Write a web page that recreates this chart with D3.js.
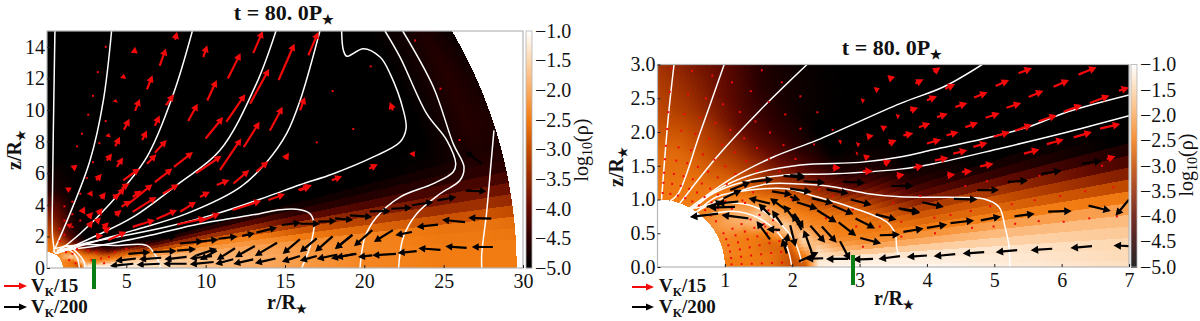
<!DOCTYPE html>
<html>
<head>
<meta charset="utf-8">
<script src="https://d3js.org/d3.v7.min.js"></script>
<style>
    body { margin: 0; background: #fff; }
    svg text { font-family: "Liberation Serif", serif; fill: #111; }
    .tick line { stroke: #222; }
</style>
</head>
<body>
<div id="chart"></div>
<script>
// density table, log10(rho): one row per polar angle (deg above the disc plane), one column per radius
var radii = [1, 1.4, 1.7, 2.0, 2.2, 2.4, 2.7, 3.1, 4, 5, 7, 10, 13, 16, 20, 25, 28, 30, 35];
var angles = [0, 3, 6, 9, 12, 15, 18, 22, 27, 33, 40, 50, 60, 70, 80, 90];
var logRho = [
    [-2.5, -2.5, -2.6, -3.0, -2.9, -1.2, -1.1, -1.1, -1.1, -1.2, -1.4, -1.8, -2.0, -2.2, -2.4, -2.5, -2.5, -2.5, -2.5],
    [-2.5, -2.5, -2.6, -3.0, -2.6, -1.3, -1.3, -1.3, -1.3, -1.3, -1.5, -1.8, -1.95, -2.15, -2.4, -2.5, -2.5, -2.5, -2.5],
    [-2.5, -2.5, -2.6, -2.9, -2.2, -1.5, -2.0, -2.2, -2.1, -1.9, -1.85, -2.0, -2.1, -2.25, -2.4, -2.6, -2.6, -2.7, -2.7],
    [-2.4, -2.5, -2.7, -2.8, -1.6, -1.9, -2.4, -2.5, -2.6, -2.6, -2.7, -2.5, -2.5, -3.0, -3.3, -3.6, -3.6, -3.7, -3.7],
    [-2.4, -2.5, -2.7, -2.5, -1.5, -2.2, -2.5, -2.5, -3.0, -3.0, -4.0, -3.7, -3.8, -4.4, -4.5, -4.5, -4.5, -4.5, -4.6],
    [-2.4, -2.5, -2.6, -1.7, -2.1, -2.4, -2.5, -2.7, -3.9, -4.3, -5, -5, -5, -5, -5, -4.9, -4.7, -4.7, -4.8],
    [-2.4, -2.5, -2.4, -1.6, -2.3, -2.5, -2.7, -3.1, -4.5, -5, -5, -5, -5, -5, -5, -5, -4.6, -4.7, -4.8],
    [-2.4, -2.4, -1.7, -2.1, -2.5, -2.7, -3.2, -4.0, -5, -5, -5, -5, -5, -5, -5, -5, -4.6, -4.8, -4.9],
    [-2.4, -2.0, -1.6, -2.4, -2.7, -3.0, -3.8, -4.7, -5, -5, -5, -5, -5, -5, -5, -5, -4.6, -4.9, -5],
    [-2.3, -1.9, -2.3, -2.8, -3.2, -3.6, -4.3, -5, -5, -5, -5, -5, -5, -5, -5, -5, -4.7, -5, -5],
    [-2.3, -2.2, -2.6, -3.2, -3.6, -4.0, -4.5, -5, -5, -5, -5, -5, -5, -5, -5, -5, -4.9, -5, -5],
    [-2.4, -2.5, -2.8, -3.3, -3.7, -4.1, -4.5, -4.8, -5, -5, -5, -5, -5, -5, -5, -5, -5, -5, -5],
    [-2.5, -2.6, -2.9, -3.3, -3.6, -4.0, -4.3, -4.6, -5, -5, -5, -5, -5, -5, -5, -5, -5, -5, -5],
    [-2.5, -2.6, -2.8, -3.1, -3.3, -3.6, -3.9, -4.1, -4.7, -5, -5, -5, -5, -5, -5, -5, -5, -5, -5],
    [-2.5, -2.6, -2.7, -2.9, -3.1, -3.3, -3.5, -3.8, -4.2, -4.8, -5, -5, -5, -5, -5, -5, -5, -5, -5],
    [-2.5, -2.6, -2.7, -2.9, -3.0, -3.1, -3.2, -3.4, -4.0, -4.6, -5, -5, -5, -5, -5, -5, -5, -5, -5]
];
var rhoStops = [-5, -4.5, -4, -3.5, -3, -2.5, -2, -1.5, -1];
var rhoColors = ["#000000", "#2e0000", "#620a00", "#942800", "#c44c00", "#f27c12", "#fbab62", "#fdd6ae", "#ffffff"];
var colorbarTicks = [-1, -1.5, -2, -2.5, -3, -3.5, -4, -4.5, -5];

var leftXTicks = [5, 10, 15, 20, 25, 30];
var leftZTicks = [0, 2, 4, 6, 8, 10, 12, 14];
var rightXTicks = [1, 2, 3, 4, 5, 6, 7];
var rightZTicks = [0, 0.5, 1, 1.5, 2, 2.5, 3];

// white contours, [r, z] in stellar radii
var leftContours = [
    [[0.5, 0.95], [0.35, 2], [0.35, 5], [0.42, 10], [0.5, 15]],
    [[0.4, 1], [1.45, 3.44], [2.71, 6.8], [3.55, 10.6], [4.07, 15]],
    [[0.5, 0.9], [2.08, 2.17], [3.97, 4.07], [6.28, 7], [7.96, 11], [9.16, 15]],
    [[0.6, 0.9], [2.92, 1.96], [5.44, 3.23], [8.38, 5.4], [10.9, 7.45], [13.2, 11.67], [14.43, 15]],
    [[0.82, 1], [2.92, 1.65], [5.44, 2.38], [8.8, 3.44], [12.16, 5.1], [13.84, 6.7], [15.1, 8.5], [15.95, 10.6], [17.2, 15]],
    [[0.82, 1.12], [2.3, 1.54], [4.4, 1.96], [7.5, 2.6], [10.7, 3.44], [13.84, 4.5], [15.95, 5.27], [18.05, 5.97], [20.57, 7.03], [22.25, 7.97], [22.63, 8.82], [22.46, 9.98], [21.62, 12.3], [20.99, 13.35], [19.94, 13.88], [18.89, 13.4], [18.68, 13.78], [18.57, 15]],
    [[21.3, 15], [22.25, 13.35], [23.93, 9.77], [25.2, 8.08], [25.76, 6.6], [25.6, 6.08], [24.35, 5.34], [22.25, 4.49], [20.78, 3.23], [20.04, 1.96], [19.73, 0]],
    [[22.42, 15], [24.35, 11.46], [25.6, 7.87], [26.28, 6.4], [26.03, 5.55], [24.77, 4.7], [23.3, 3.44], [22.46, 1.96], [22.16, 0]],
    [[28.17, 8.71], [28, 6.8], [27.7, 3.44], [27.4, 0.9], [27.4, 0]],
    [[0.6, 1.12], [3.34, 1.43], [6.5, 2.07], [9.64, 2.8], [13.4, 3.44], [14.7, 3.69], [15.95, 3.69], [16.57, 3.44], [16.83, 2.8], [16.57, 1.33], [16.05, 0]],
    [[0.4, 1.22], [2.29, 1.48], [4.39, 1.43], [6.28, 1.43], [6.9, 0.7], [7.16, 0]],
    [[0.9, 1.1], [1.24, 1.22], [1.87, 0.7], [2.04, 0]],
    [[0.8, 1.2], [1.24, 1.43], [2.29, 0.49], [2.39, 0]]
];
var rightContours = [
    [[0.06, 1.0], [0.16, 2.22], [0.245, 3]],
    [[0.19, 0.98], [0.31, 1.09], [0.63, 1.98], [0.99, 3]],
    [[0.33, 0.94], [0.88, 1.63], [1.52, 2.32], [2.22, 3]],
    [[0.46, 0.86], [1.13, 1.33], [1.72, 1.63], [2.37, 1.88], [3.6, 2.42], [4.25, 2.67], [4.82, 3]],
    [[0.5, 0.86], [0.88, 1.14], [1.37, 1.36], [2.12, 1.51], [3, 1.55], [3.6, 1.63], [4.1, 1.74], [4.84, 1.9], [5.49, 2.07], [6.09, 2.3], [7, 2.55]],
    [[0.53, 0.86], [0.83, 1.09], [1.27, 1.26], [1.87, 1.36], [2.62, 1.38], [3.6, 1.45], [4.1, 1.53], [5.1, 1.76], [6.09, 2], [7, 2.24]],
    [[0.56, 0.81], [1.13, 1.09], [1.62, 1.23], [2.12, 1.23], [2.6, 1.19], [3.1, 1.09], [3.6, 1.04], [4.6, 1.03], [4.84, 1.01], [5.07, 0.89], [5.16, 0.59], [5.22, 0.3], [5.23, 0]],
    [[0.58, 0.81], [0.88, 1.04], [1.37, 1.14], [1.92, 1.16], [2.36, 1.04], [2.86, 0.89], [3.4, 0.67], [3.53, 0.49], [3.55, 0.3], [3.58, 0.17]],
    [[0.56, 0.87], [0.95, 0.95], [1.45, 0.89], [1.79, 0.67], [2.04, 0.37], [2.14, 0.07]],
    [[0.7, 0.77], [1.2, 0.82], [1.6, 0.67], [1.89, 0.37], [1.99, 0.03]]
];

// velocity arrows, [tail r, tail z, head r, head z]
var leftRedArrows = [
    [13, 13.6, 13.6, 15], [14.6, 11.9, 15.6, 14.2], [11.4, 12, 12.2, 13.6], [10.1, 10.6, 10.7, 11.9], [8.9, 9.3, 9.5, 10.4],
    [8.07, 14.45, 8.2, 14.95], [7.1, 12.8, 7.5, 13.9], [9.85, 13.35, 10.1, 14.1], [5.5, 13.6, 5.55, 14], [6.3, 11.3, 6.65, 12.2],
    [4.8, 12, 4.85, 12.3], [5.55, 9.95, 5.85, 10.7], [7.5, 10.3, 8, 11], [4.85, 8.75, 5.2, 9.45], [6.8, 9, 7.1, 9.65],
    [4.3, 10.5, 4.35, 10.7], [4.3, 7.7, 4.6, 8.3], [6, 8.1, 6.3, 8.7], [3.85, 8.3, 3.9, 8.55], [10, 8.2, 11.1, 9.55],
    [11.3, 9.25, 12.5, 11], [12.8, 10.4, 14, 12.6], [14.05, 8.7, 14.85, 10.2], [12.4, 7.65, 13.4, 9.25], [10.9, 6.2, 12.25, 8.2],
    [9.4, 6, 11, 7.1], [11.75, 5.35, 12.75, 6.2], [13.2, 6.1, 13.95, 6.75], [15, 6.9, 15.25, 7.3], [1.35, 5.1, 1.35, 4.75],
    [1.7, 6.5, 1.75, 6.1], [4.4, 4.5, 4.9, 5.1], [4.8, 5.55, 5.85, 6.3], [6.3, 6.6, 6.9, 7.2], [3.77, 6.8, 4.1, 7.25],
    [3.1, 5.55, 3.45, 5.97], [4.4, 6.4, 4.8, 7], [6.8, 7.3, 7.55, 8.1], [4.7, 5.04, 5.2, 5.36], [4.18, 4.4, 4.6, 4.73],
    [4.7, 3.88, 5.3, 4.26], [5.4, 4.5, 5.96, 4.9], [4.3, 3.35, 4.7, 3.67], [5.4, 3.55, 6.9, 4.5], [7.3, 4.7, 8.3, 5.3],
    [6.9, 3.1, 8.2, 3.67], [8.4, 3.56, 9.4, 4.2], [3.87, 1.77, 5, 2.3], [5.4, 2.6, 6.8, 3.04], [3.1, 2, 3.55, 2.05],
    [8.2, 2.75, 10, 3.15], [9.64, 4.5, 10.27, 4.83], [10.7, 5.25, 11.5, 5.57], [9.64, 2.93, 10.9, 3.46], [11.7, 3.67, 13.5, 4.26],
    [13.95, 4.3, 15, 4.68], [15.84, 4.94, 16.7, 5.25], [16.47, 13.46, 17.1, 14.94], [15.95, 9.98, 16.26, 10.82], [21.8, 9.98, 21.6, 10.5],
    [15.95, 4.9, 16.6, 5.2], [17.95, 5.55, 18.6, 5.8], [20.3, 6.29, 20.85, 6.56], [23, 7.13, 23.2, 7.4], [2.6, 2.6, 2.9, 3],
    [3.2, 3.4, 3.5, 3.8], [2.2, 3.5, 2.4, 3.9], [1.4, 2.8, 1.45, 2.5], [2.7, 4.6, 2.85, 4.9], [3.5, 2.5, 3.9, 2.9],
    [2.6, 3.2, 2.9, 3.55], [3.4, 4.4, 3.7, 4.8], [3.1, 2.9, 3.4, 3.2], [3.6, 2.3, 4, 2.6], [5, 3.95, 6.65, 5.3],
    [6.8, 5.44, 7.9, 6.3], [8, 6.4, 9.2, 7.34]
];
var leftRedDots = [
    [3.7, 14], [3.2, 12.4], [2.9, 10.9], [2.6, 9.7], [2.2, 8.5], [3.7, 9.3], [1.9, 7.7], [3.3, 7.9], [2.9, 6.7], [2.5, 5.7],
    [2.1, 4.7], [1.6, 4.2], [1.1, 3.9], [1.6, 3.4], [1.1, 3], [0.8, 2.5], [1.1, 2.1], [1.6, 2.6], [2.1, 3], [0.8, 1.7],
    [1.2, 1], [1.6, 0.9], [1.9, 1.2], [1.4, 0.5], [1.8, 0.3], [2.6, 1.1], [3.1, 1], [3.4, 0.6], [3.6, 0.3], [2.8, 0.5],
    [4.3, 1], [5, 1.2], [3.9, 0.7], [20.4, 12.76], [18, 11.2], [19.3, 8.8], [17, 7.95], [23.2, 14.4], [24.8, 11.35], [26, 8.1]
];
var leftBlackArrows = [
    [28.1, 1.33, 26.77, 1.33], [26.45, 1.27, 25.1, 1.37], [24.8, 1.15, 23.4, 1.25], [23.3, 1.07, 22.1, 0.95], [22, 0.9, 20.5, 0.8],
    [20.5, 0.8, 19.6, 0.7], [19.4, 0.9, 17.9, 0.6], [19.5, 0.89, 18.2, 0.67], [18.25, 0.84, 17, 0.57], [17, 0.76, 15.94, 0.46],
    [15.94, 0.76, 14.8, 0.4], [14.4, 0.6, 13.1, 0.3], [13, 0.55, 11.74, 0.25], [11.74, 0.55, 10.6, 0.25], [10.5, 0.38, 9, 0.23],
    [8.8, 0.27, 7.33, 0.27], [7.1, 0.27, 5.65, 0.2], [5.44, 0.27, 3.97, 0.13], [8.8, 0.7, 7.4, 0.55], [7.2, 0.65, 5.8, 0.55],
    [5.6, 0.6, 4.3, 0.45], [10.4, 0.75, 9, 0.6], [9.43, 0.8, 10.7, 1.22],
    [28, 3.12, 26.55, 3.18], [26.35, 2.9, 24.9, 3.05], [24.65, 2.75, 23.3, 2.6], [23, 2.28, 21.95, 2.07], [21.8, 2.4, 20.6, 1.65],
    [20.5, 2.4, 19.35, 1.37], [19.25, 2.1, 18.15, 1.2], [19.24, 2.09, 18.15, 1.2], [18, 2, 16.9, 1.03], [17, 1.88, 15.94, 0.99],
    [15.94, 1.82, 14.85, 0.89], [14.5, 1.6, 13.1, 0.76], [13.1, 1.39, 11.85, 0.68], [11.85, 1.25, 10.7, 0.51], [10.7, 1.1, 9.64, 0.51],
    [9.64, 1.67, 10.8, 1.81], [10.8, 1.85, 12, 2], [12.3, 2.03, 13.1, 2.2], [13.2, 2.24, 14.5, 2.57], [14.8, 2.72, 16, 2.87],
    [15.95, 2.8, 17.2, 2.8], [17.1, 2.93, 18.25, 2.97], [18.15, 3.14, 19.3, 3.04], [19.1, 3.33, 20.5, 3.23], [20.35, 3.59, 21.65, 3.6],
    [21.7, 3.75, 23, 3.82], [23, 3.97, 24.35, 4.18], [24.6, 4.28, 25.8, 4.49], [26.4, 4.9, 27.7, 4.85], [27.4, 6.6, 26.35, 7.4],
    [5.13, 0.9, 6.5, 1], [6.7, 1, 8.17, 1.08], [8.2, 1.1, 9.4, 1.2], [6.8, 1.85, 8.17, 2], [8.38, 1.55, 9.85, 1.7]
];
var rightBlackArrows = [
    [7, 0.31, 6.77, 0.32], [6.45, 0.31, 6.13, 0.28], [5.86, 0.27, 5.54, 0.25], [5.34, 0.25, 5.02, 0.22], [4.85, 0.22, 4.53, 0.2],
    [4.42, 0.19, 4.1, 0.16], [4, 0.17, 3.7, 0.15], [3.6, 0.16, 3.28, 0.12], [3.2, 0.12, 2.9, 0.11], [2.83, 0.12, 2.5, 0.12], [2.46, 0.13, 2.2, 0.12],
    [2.1, 0.08, 2.39, 0.22], [3.65, 0.52, 3.95, 0.57], [4, 0.58, 4.3, 0.63], [4.35, 0.65, 4.7, 0.69], [4.8, 0.69, 5.1, 0.75],
    [5.3, 0.75, 5.6, 0.79], [5.8, 0.82, 6.15, 0.83], [6.4, 0.91, 6.73, 0.83], [7, 1, 6.8, 0.76], [3.3, 0.47, 3.6, 0.48],
    [3.6, 0.86, 3.9, 0.8], [3.93, 0.96, 4.25, 0.89], [4.4, 1.01, 4.75, 1], [4.75, 1.14, 5.07, 1.14], [5.2, 1.26, 5.5, 1.28],
    [5.7, 1.38, 6, 1.43], [6.3, 1.53, 6.6, 1.57], [3.6, 1.21, 3.8, 1.2],
    [1.97, 1.36, 2.19, 1.35], [2.17, 1.27, 2.49, 1.25], [2.76, 1.26, 3.08, 1.25], [3.47, 1.2, 3.8, 1.2], [1.97, 1.16, 2.29, 1.11],
    [2.51, 1.15, 2.84, 1.09], [1.97, 1.04, 2.12, 0.99], [2.29, 1.02, 2.61, 0.94], [2.87, 1, 3.18, 0.92], [3.58, 0.87, 3.89, 0.82],
    [3.24, 0.78, 3.55, 0.7], [2.07, 0.96, 2.38, 0.86], [2.6, 0.91, 2.91, 0.78], [2.37, 0.84, 2.66, 0.66], [2.94, 0.72, 3.23, 0.57],
    [2.69, 0.66, 2.95, 0.46], [3.01, 0.43, 3.32, 0.35], [2.27, 0.61, 2.49, 0.36], [2.44, 0.6, 2.66, 0.36], [2.71, 0.38, 2.86, 0.1],
    [2.03, 0.79, 2.17, 0.57], [2.29, 0.22, 2.17, 0.55], [1.97, 0.62, 2.05, 0.3],
    [1.87, 1.35, 2.19, 1.32], [1.08, 1.14, 1.38, 1.26], [1.38, 1.26, 1.72, 1.3], [1.7, 1.12, 2, 1.07], [0.98, 1.02, 1.25, 1.14],
    [1.67, 0.94, 1.35, 1.02], [0.73, 0.89, 0.98, 0.97], [1.2, 0.97, 0.88, 0.94], [1.92, 0.84, 1.67, 1.02], [0.9, 0.79, 0.48, 0.74],
    [1.15, 0.89, 0.76, 0.88], [1.35, 0.72, 0.95, 0.77], [1.67, 0.77, 1.5, 0.94], [1.85, 0.62, 1.7, 0.84], [2.04, 0.69, 1.87, 0.92],
    [2.14, 0.55, 2, 0.79], [1.67, 0.41, 1.47, 0.68], [1.82, 0.55, 1.62, 0.56], [1.92, 0.2, 1.85, 0.42], [1.9, 0.3, 1.94, 0.5]
];
var rightRedArrows = [
    [6.25, 2.85, 6.52, 2.96], [5.36, 2.87, 5.56, 2.95], [4.1, 2.89, 4.2, 2.96], [3.83, 2.72, 3.95, 2.78], [4.27, 2.64, 4.42, 2.71],
    [5.02, 2.68, 5.22, 2.77], [5.88, 2.67, 6.11, 2.77], [6.85, 2.61, 7, 2.66], [4, 2.47, 4.15, 2.53], [4.42, 2.37, 4.6, 2.43],
    [4.7, 2.51, 4.9, 2.59], [5.51, 2.52, 5.73, 2.61], [6.42, 2.43, 6.71, 2.54], [3.75, 2.32, 3.87, 2.36], [4.15, 2.22, 4.31, 2.27],
    [4.87, 2.21, 5.08, 2.28], [5.18, 2.36, 5.4, 2.43], [6.03, 2.3, 6.3, 2.4], [3.88, 2.07, 4.05, 2.13], [4.57, 2.07, 4.76, 2.14],
    [5.31, 2.02, 5.56, 2.11], [5.66, 2.16, 5.93, 2.25], [3.65, 1.95, 3.8, 1.98], [4, 1.83, 4.21, 1.89], [4.29, 1.95, 4.47, 2],
    [4.99, 1.93, 5.23, 2], [4.69, 1.78, 4.9, 1.84], [5.78, 1.82, 6.03, 1.89], [6.18, 1.92, 6.45, 2], [6.57, 2.05, 6.87, 2.12],
    [4.39, 1.68, 4.6, 1.73], [4.12, 1.58, 4.32, 1.62], [4.79, 1.49, 4.99, 1.53], [5.44, 1.68, 5.67, 1.74], [6.67, 1.6, 6.8, 1.64],
    [4.52, 1.41, 4.67, 1.42], [4.3, 1.36, 4.42, 1.37], [3.43, 2.79, 3.53, 2.82], [3.23, 2.62, 3.3, 2.65], [3.03, 2.46, 3.08, 2.48],
    [3.55, 2.23, 3.6, 2.25], [3.33, 2.05, 3.41, 2.09], [3.11, 1.93, 3.21, 1.95], [3.43, 1.83, 3.55, 1.88], [2.96, 1.81, 3.01, 1.83],
    [3.36, 1.53, 3.47, 1.58], [3.07, 1.62, 3.16, 1.65], [2.6, 1.47, 2.72, 1.47], [2.95, 1.68, 2.98, 1.69], [2.7, 1.85, 2.74, 1.87],
    [3.55, 1.35, 3.67, 1.37], [3.05, 1.42, 3.2, 1.42], [3.8, 1.47, 3.95, 1.5]
];
// quiver grid points where the flow is too slow to show a shaft
var dotInnerRadii = [1.1, 1.25, 1.4, 1.55, 1.7, 1.85];
var dotInnerAngles = [2, 7, 12, 17, 22, 27];
var dotWindRadii = [1.1, 1.25, 1.4, 1.6, 1.8, 2.05, 2.3, 2.6, 2.95, 3.3];
var dotWindAngles = [38, 44, 50, 56, 62, 68, 74, 80, 86];
var rightDots = [
    [3.62, 0.67], [4.11, 0.73], [4.35, 0.77], [4.65, 0.83], [4.94, 0.9], [5.26, 0.93], [5.6, 0.99], [5.98, 1.05], [6.35, 1.12], [6.77, 1.18],
    [3.62, 0.45], [4.12, 0.5], [4.67, 0.58], [4.99, 0.6], [5.31, 0.64], [5.66, 0.68], [6.03, 0.67], [6.41, 0.72], [6.82, 0.75],
    [4.57, 1.2], [4.89, 1.27], [5.9, 1.42], [5.67, 1.35], [6.6, 1.5], [2.5, 0.72], [2.95, 0.6], [3.05, 0.3], [2.2, 0.5], [2.25, 0.9], [2.6, 1.05],
    [2.9, 0.85], [3.3, 0.6], [3.5, 0.95], [3.9, 1.05], [2.4, 1.15], [2.0, 1.0], [1.6, 0.6], [1.3, 0.95]
];

var rhoColor = d3.scaleLinear().domain(rhoStops).range(rhoColors).clamp(true);
var red = "#f20a0a";

var svg = d3.select("#chart").append("svg")
    .attr("width", 1200).attr("height", 321)
    .style("display", "block");

// look up the table in polar coordinates, wedges follow the simulation grid
function densityAt(r, deg) {
    var a = Math.min(90, Math.round(deg / 1.4) * 1.4);
    var i = Math.max(1, Math.min(radii.length - 1, d3.bisect(radii, r)));
    var j = Math.max(1, Math.min(angles.length - 1, d3.bisect(angles, a)));
    var u = (r - radii[i - 1]) / (radii[i] - radii[i - 1]);
    var v = (a - angles[j - 1]) / (angles[j] - angles[j - 1]);
    return (1 - v) * ((1 - u) * logRho[j - 1][i - 1] + u * logRho[j - 1][i]) + v * ((1 - u) * logRho[j][i - 1] + u * logRho[j][i]);
}

function density(g, x, z, rMax) {
    var x0 = Math.round(x.range()[0]), x1 = Math.round(x.range()[1]);
    var y0 = Math.round(z.range()[1]), y1 = Math.round(z.range()[0]);
    var canvas = document.createElement("canvas");
    canvas.width = x1 - x0;
    canvas.height = y1 - y0;
    var ctx = canvas.getContext("2d");
    var img = ctx.createImageData(canvas.width, canvas.height);
    for (var py = 0; py < canvas.height; py++) {
        for (var px = 0; px < canvas.width; px++) {
            var rx = x.invert(x0 + px + 0.5), rz = z.invert(y0 + py + 0.5);
            var r = Math.sqrt(rx * rx + rz * rz);
            var k = (py * canvas.width + px) * 4;
            if (r < 1 || r > rMax) {
                img.data[k] = img.data[k + 1] = img.data[k + 2] = img.data[k + 3] = 255;
                continue;
            }
            var c = d3.rgb(rhoColor(densityAt(r, Math.atan2(rz, rx) * 180 / Math.PI)));
            img.data[k] = c.r; img.data[k + 1] = c.g; img.data[k + 2] = c.b; img.data[k + 3] = 255;
        }
    }
    ctx.putImageData(img, 0, 0);
    g.append("image")
        .attr("x", x0).attr("y", y0)
        .attr("width", canvas.width).attr("height", canvas.height)
        .attr("href", canvas.toDataURL());
}

// quiver style arrow as a filled outline
function arrowPath(x0, y0, x1, y1, headLen, headW, shaft) {
    var dx = x1 - x0, dy = y1 - y0, len = Math.sqrt(dx * dx + dy * dy);
    var ux = dx / len, uy = dy / len, nx = -uy, ny = ux;
    var hl = Math.min(headLen, len), hw = headW / 2, sw = shaft / 2;
    if (len < headLen) { hw = hw * (0.5 + 0.5 * len / headLen); }
    var bx = x1 - ux * hl, by = y1 - uy * hl;
    var p = d3.path();
    if (len > headLen) {
        p.moveTo(x0 + nx * sw, y0 + ny * sw);
        p.lineTo(bx + nx * sw, by + ny * sw);
        p.lineTo(bx + nx * hw, by + ny * hw);
        p.lineTo(x1, y1);
        p.lineTo(bx - nx * hw, by - ny * hw);
        p.lineTo(bx - nx * sw, by - ny * sw);
        p.lineTo(x0 - nx * sw, y0 - ny * sw);
    } else {
        p.moveTo(bx + nx * hw, by + ny * hw);
        p.lineTo(x1, y1);
        p.lineTo(bx - nx * hw, by - ny * hw);
    }
    p.closePath();
    return p.toString();
}

function drawArrows(g, data, x, z, color, headLen, headW, shaft) {
    g.append("g").selectAll("path").data(data).enter().append("path")
        .attr("d", function (d) { return arrowPath(x(d[0]), z(d[1]), x(d[2]), z(d[3]), headLen, headW, shaft); })
        .attr("fill", color);
}

function drawDots(g, data, x, z) {
    g.append("g").selectAll("rect").data(data).enter().append("rect")
        .attr("x", function (d) { return x(d[0]) - 1; })
        .attr("y", function (d) { return z(d[1]) - 1; })
        .attr("width", 2).attr("height", 2)
        .attr("fill", red);
}

function subText(sel, base, sub, rest, subSize) {
    sel.append("tspan").text(base);
    sel.append("tspan").attr("dy", 4).attr("font-size", subSize).text(sub);
    if (rest) { sel.append("tspan").attr("dy", -4).text(rest); }
}

function panel(o) {
    var x = d3.scaleLinear().domain(o.xDomain).range(o.xRange);
    var z = d3.scaleLinear().domain(o.zDomain).range(o.zRange);
    var id = o.id;
    density(svg.append("g"), x, z, o.rMax);

    svg.append("clipPath").attr("id", id)
        .append("rect")
        .attr("x", o.xRange[0]).attr("y", o.zRange[1])
        .attr("width", o.xRange[1] - o.xRange[0]).attr("height", o.zRange[0] - o.zRange[1]);
    var plot = svg.append("g").attr("clip-path", "url(#" + id + ")");

    var line = d3.line().x(function (d) { return x(d[0]); }).y(function (d) { return z(d[1]); }).curve(d3.curveCatmullRom.alpha(0.5));
    plot.append("g").selectAll("path").data(o.contours).enter().append("path")
        .attr("d", line).attr("fill", "none").attr("stroke", "#fff").attr("stroke-width", 1.5);

    drawDots(plot, o.dots, x, z);
    drawArrows(plot, o.red, x, z, red, o.headLen, o.headW, 2.2);
    drawArrows(plot, o.black, x, z, "#000", o.headLen, o.headW, 2.2);

    // frame
    svg.append("rect")
        .attr("x", o.xRange[0]).attr("y", o.zRange[1])
        .attr("width", o.xRange[1] - o.xRange[0]).attr("height", o.zRange[0] - o.zRange[1])
        .attr("fill", "none").attr("stroke", "#b5b5b5").attr("stroke-width", 1.2);

    var xAxis = svg.append("g").attr("transform", "translate(0," + o.zRange[0] + ")")
        .call(d3.axisBottom(x).tickValues(o.xTicks).tickSize(-3).tickPadding(6).tickFormat(d3.format("d")));
    xAxis.select(".domain").remove();
    xAxis.selectAll("text").attr("font-size", 20).attr("font-family", "Liberation Serif").attr("dy", "0.7em");

    var zAxis = svg.append("g").attr("transform", "translate(" + o.xRange[0] + ",0)")
        .call(d3.axisLeft(z).tickValues(o.zTicks).tickSize(-3).tickPadding(2).tickFormat(d3.format(o.zFormat)));
    zAxis.select(".domain").remove();
    zAxis.selectAll("text").attr("font-size", 20).attr("font-family", "Liberation Serif");

    // colorbar
    var cb = d3.scaleLinear().domain([-5, -1]).range(o.zRange);
    var steps = d3.range(o.zRange[1], o.zRange[0]);
    svg.append("g").selectAll("rect").data(steps).enter().append("rect")
        .attr("x", o.cbX).attr("y", function (d) { return d; })
        .attr("width", 6).attr("height", 1.2)
        .attr("fill", function (d) { return rhoColor(cb.invert(d + 0.5)); });
    svg.append("rect").attr("x", o.cbX).attr("y", o.zRange[1]).attr("width", 6).attr("height", o.zRange[0] - o.zRange[1])
        .attr("fill", "none").attr("stroke", "#b5b5b5").attr("stroke-width", 0.8);
    svg.append("g").selectAll("text").data(colorbarTicks).enter().append("text")
        .attr("x", o.cbX + 9).attr("y", function (d) { return cb(d); })
        .attr("dy", "0.34em").attr("font-size", 20)
        .text(function (d) { return "\u2212" + d3.format(".1f")(-d); });

    var rot = svg.append("text")
        .attr("transform", "translate(" + o.cbLabel[0] + "," + o.cbLabel[1] + ") rotate(-90)")
        .attr("text-anchor", "middle").attr("font-size", 20);
    subText(rot, "log", "10", "(\u03c1)", 14);

    // titles
    var title = svg.append("text").attr("x", o.title[0]).attr("y", o.title[1]).attr("text-anchor", "middle")
        .attr("font-size", 22).attr("font-weight", "bold");
    subText(title, "t = 80. 0P", "\u2605", null, 13);

    var xl = svg.append("text").attr("x", o.xLabel[0]).attr("y", o.xLabel[1])
        .attr("font-size", 20).attr("font-weight", "bold");
    subText(xl, "r/R", "\u2605", null, 12);
    var zl = svg.append("text")
        .attr("transform", "translate(" + o.zLabel[0] + "," + o.zLabel[1] + ") rotate(-90)")
        .attr("text-anchor", "middle").attr("font-size", 20).attr("font-weight", "bold");
    subText(zl, "z/R", "\u2605", null, 12);

    // scale arrows
    o.legend.forEach(function (l) {
        svg.append("path").attr("d", arrowPath(l.x0, l.y, l.x1, l.y, 8, 7, 1.8)).attr("fill", l.color);
        var t = svg.append("text").attr("x", l.tx).attr("y", l.ty).attr("font-size", 19).attr("font-weight", "bold");
        subText(t, "V", "K", l.label, 12);
    });

    // corotation marker
    svg.append("rect").attr("x", o.marker[0]).attr("y", o.marker[1]).attr("width", 4).attr("height", 30).attr("fill", "#0a7d14");
}

var rightFan = [];
dotInnerRadii.forEach(function (r) {
    dotInnerAngles.forEach(function (a) {
        rightFan.push([r * Math.cos(a * Math.PI / 180), r * Math.sin(a * Math.PI / 180)]);
    });
});
dotWindRadii.forEach(function (r) {
    dotWindAngles.forEach(function (a) {
        rightFan.push([r * Math.cos(a * Math.PI / 180), r * Math.sin(a * Math.PI / 180)]);
    });
});

panel({
    id: "clipLeft", xDomain: [0, 30], xRange: [47, 523], zDomain: [0, 15], zRange: [268, 31], rMax: 29.6,
    xTicks: leftXTicks, zTicks: leftZTicks, zFormat: "d",
    contours: leftContours, red: leftRedArrows, black: leftBlackArrows, dots: leftRedDots, headLen: 7, headW: 7.5,
    cbX: 526, cbLabel: [588, 150], title: [284, 20], xLabel: [267, 309], zLabel: [21, 150], marker: [92, 259],
    legend: [
        { color: red, x0: 4, x1: 27, y: 286, tx: 31, ty: 292, label: "/15" },
        { color: "#000", x0: 4, x1: 27, y: 307, tx: 31, ty: 313, label: "/200" }
    ]
});
panel({
    id: "clipRight", xDomain: [0, 7], xRange: [657.5, 1129], zDomain: [0, 3], zRange: [267, 64.5], rMax: 9,
    xTicks: rightXTicks, zTicks: rightZTicks, zFormat: ".1f",
    contours: rightContours, red: rightRedArrows, black: rightBlackArrows, dots: rightFan.concat(rightDots), headLen: 7.5, headW: 8,
    cbX: 1131, cbLabel: [1193, 165], title: [892, 55], xLabel: [874, 305], zLabel: [623, 167], marker: [851, 255],
    legend: [
        { color: red, x0: 632, x1: 654, y: 287, tx: 659, ty: 292, label: "/15" },
        { color: "#000", x0: 632, x1: 654, y: 307, tx: 659, ty: 313, label: "/200" }
    ]
});
</script>
</body>
</html>
